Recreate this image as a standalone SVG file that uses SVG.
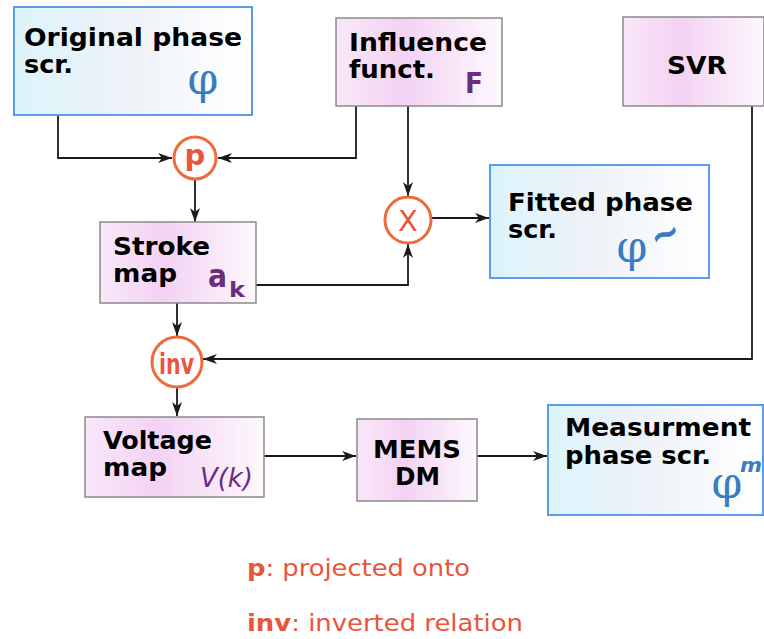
<svg xmlns="http://www.w3.org/2000/svg" width="764" height="639" viewBox="0 0 764 639">
<style>
.lbl{font-family:"DejaVu Sans","Liberation Sans",sans-serif;font-weight:bold;font-size:24px;fill:#000}
.bbox{fill:url(#gBlue);stroke:#5a9bec;stroke-width:2}
.pbox{fill:url(#gPink);stroke:#8a8a8a;stroke-width:1.5}
.phi{font-family:"DejaVu Serif","Liberation Serif",serif;font-size:44px;fill:#3a7cc2}
.pur{font-family:"DejaVu Sans","Liberation Sans",sans-serif;font-weight:bold;fill:#6b2d80}
.op{fill:#fff;stroke:#ee6b3b;stroke-width:3}
.opt{font-family:"DejaVu Sans","Liberation Sans",sans-serif;fill:#e9553c}
.conn path{fill:none;stroke:#1a1a1a;stroke-width:1.8}
.leg{font-family:"DejaVu Sans","Liberation Sans",sans-serif;font-size:23px;fill:#e8553b}
</style>
<defs>
<linearGradient id="gBlue" x1="0" y1="0" x2="1" y2="0">
<stop offset="0" stop-color="#dcf4fb"/>
<stop offset="0.45" stop-color="#edf2f8"/>
<stop offset="1" stop-color="#ffffff"/>
</linearGradient>
<linearGradient id="gPink" x1="0" y1="0" x2="1" y2="0">
<stop offset="0" stop-color="#f9e8f9"/>
<stop offset="0.4" stop-color="#f3d2f3"/>
<stop offset="1" stop-color="#fdf8fd"/>
</linearGradient>
<marker id="arr" markerUnits="userSpaceOnUse" markerWidth="15" markerHeight="11" refX="14" refY="5" orient="auto">
<path d="M0,0 L14,5 L0,10 L4,5 Z" fill="#1a1a1a"/>
</marker>
</defs>

<g class="conn">
<path d="M58,115 V158 H172" marker-end="url(#arr)"/>
<path d="M356,106 V158 H218" marker-end="url(#arr)"/>
<path d="M408,106 V196" marker-end="url(#arr)"/>
<path d="M195,180 V222" marker-end="url(#arr)"/>
<path d="M256,285 H408 V244" marker-end="url(#arr)"/>
<path d="M431,218 H489" marker-end="url(#arr)"/>
<path d="M177,303 V336" marker-end="url(#arr)"/>
<path d="M752,106 V359 H203" marker-end="url(#arr)"/>
<path d="M177,388 V416" marker-end="url(#arr)"/>
<path d="M264,456 H356" marker-end="url(#arr)"/>
<path d="M477,456 H547" marker-end="url(#arr)"/>
</g>

<g id="original">
<rect class="bbox" x="14" y="7" width="238" height="108"/>
<text class="lbl" x="24" y="46" textLength="218" lengthAdjust="spacingAndGlyphs">Original phase</text>
<text class="lbl" x="24" y="73" textLength="49" lengthAdjust="spacingAndGlyphs">scr.</text>
<text class="phi" x="203" y="94" text-anchor="middle">φ</text>
</g>

<g id="influence">
<rect class="pbox" x="336" y="18" width="166" height="88"/>
<text class="lbl" x="349" y="51" textLength="138" lengthAdjust="spacingAndGlyphs">Influence</text>
<text class="lbl" x="349" y="78" textLength="86" lengthAdjust="spacingAndGlyphs">funct.</text>
<text class="pur" x="465" y="93" font-size="29" textLength="18" lengthAdjust="spacingAndGlyphs">F</text>
</g>

<g id="svr">
<rect class="pbox" x="623" y="17" width="141" height="89"/>
<text class="lbl" x="667" y="74" textLength="60" lengthAdjust="spacingAndGlyphs">SVR</text>
</g>

<g id="p-op">
<circle class="op" cx="195" cy="158" r="21"/>
<text class="opt" x="195" y="165" font-size="29" font-weight="bold" text-anchor="middle">p</text>
</g>

<g id="mult-op">
<circle class="op" cx="408" cy="220" r="23"/>
<text class="opt" x="408" y="231" font-size="29" text-anchor="middle">X</text>
</g>

<g id="stroke">
<rect class="pbox" x="100" y="222" width="156" height="81"/>
<text class="lbl" x="113" y="255" textLength="97" lengthAdjust="spacingAndGlyphs">Stroke</text>
<text class="lbl" x="113" y="282" textLength="64" lengthAdjust="spacingAndGlyphs">map</text>
<text class="pur" x="208" y="287" font-size="32" textLength="19" lengthAdjust="spacingAndGlyphs">a</text>
<text class="pur" x="229" y="297" font-size="22" textLength="16" lengthAdjust="spacingAndGlyphs">k</text>
</g>

<g id="fitted">
<rect class="bbox" x="490" y="165" width="219" height="113"/>
<text class="lbl" x="508" y="211" textLength="185" lengthAdjust="spacingAndGlyphs">Fitted phase</text>
<text class="lbl" x="508" y="238" textLength="49" lengthAdjust="spacingAndGlyphs">scr.</text>
<text class="phi" x="632" y="262" text-anchor="middle">φ</text>
<text x="665" y="247" font-family="DejaVu Sans, sans-serif" font-weight="bold" font-size="40" fill="#3a7cc2" textLength="30" lengthAdjust="spacingAndGlyphs" text-anchor="middle" transform="rotate(-22 665 234)">~</text>
</g>

<g id="inv-op">
<circle class="op" cx="177" cy="362" r="25"/>
<text class="opt" x="159" y="374" font-size="29" font-weight="bold" textLength="35" lengthAdjust="spacingAndGlyphs">inv</text>
</g>

<g id="voltage">
<rect class="pbox" x="85" y="417" width="179" height="80"/>
<text class="lbl" x="103" y="449" textLength="109" lengthAdjust="spacingAndGlyphs">Voltage</text>
<text class="lbl" x="103" y="476" textLength="64" lengthAdjust="spacingAndGlyphs">map</text>
<text x="200" y="487" font-family="DejaVu Sans, sans-serif" font-style="italic" font-size="27" fill="#6b2d80" textLength="53" lengthAdjust="spacingAndGlyphs">V(k)</text>
</g>

<g id="mems">
<rect class="pbox" x="357" y="419" width="120" height="82"/>
<text class="lbl" x="373" y="458" textLength="88" lengthAdjust="spacingAndGlyphs">MEMS</text>
<text class="lbl" x="395" y="485" textLength="45" lengthAdjust="spacingAndGlyphs">DM</text>
</g>

<g id="measurement">
<rect class="bbox" x="548" y="405" width="215" height="110"/>
<text class="lbl" x="565" y="436" textLength="186" lengthAdjust="spacingAndGlyphs">Measurment</text>
<text class="lbl" x="565" y="464" textLength="146" lengthAdjust="spacingAndGlyphs">phase scr.</text>
<text class="phi" x="727" y="498" text-anchor="middle">φ</text>
<text x="740" y="472" font-family="DejaVu Sans, sans-serif" font-weight="bold" font-style="italic" font-size="20" fill="#3a7cc2" textLength="22" lengthAdjust="spacingAndGlyphs">m</text>
</g>

<g id="legend">
<text class="leg" x="247" y="576" textLength="223" lengthAdjust="spacingAndGlyphs"><tspan font-weight="bold">p</tspan>: projected onto</text>
<text class="leg" x="247" y="631" textLength="276" lengthAdjust="spacingAndGlyphs"><tspan font-weight="bold">inv</tspan>: inverted relation</text>
</g>
</svg>
